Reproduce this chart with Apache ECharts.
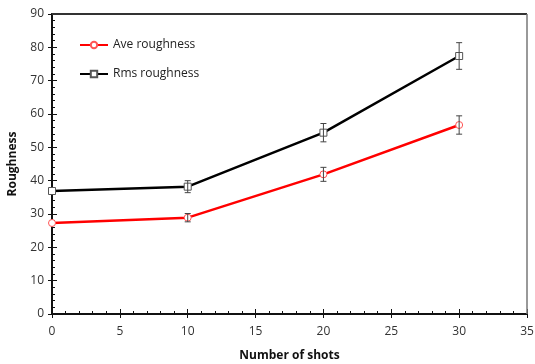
<!DOCTYPE html>
<html><head><meta charset="utf-8">
<script src="https://cdn.jsdelivr.net/npm/echarts@6/dist/echarts.min.js"></script>
<style>html,body{margin:0;padding:0;background:#fff}#c{width:535px;height:364px}</style>
</head><body><div id="c"></div>
<script>
const shots = [0, 10, 20, 30];
const aveRoughness = [27.3, 28.9, 41.9, 56.7];
const aveError = [0, 1.25, 2.1, 2.75];
const rmsRoughness = [36.9, 38.2, 54.4, 77.4];
const rmsError = [0, 1.8, 2.75, 4.0];
const xTicks = [0, 5, 10, 15, 20, 25, 30, 35];
const yTicks = [0, 10, 20, 30, 40, 50, 60, 70, 80, 90];

const font = "'Open Sans', 'Noto Sans', sans-serif";
function pairs(xs, ys){ return xs.map((x,i)=>[x, ys[i]]); }
function errData(xs, ys, es){ return xs.map((x,i)=>[x, ys[i]-es[i], ys[i]+es[i]]); }
function errRender(params, api){
  const x = api.value(0);
  const lo = api.coord([x, api.value(1)]);
  const hi = api.coord([x, api.value(2)]);
  const w = 3;
  const st = {stroke:'#444', lineWidth:1};
  if (Math.abs(lo[1]-hi[1]) < 0.5) return {type:'group', children:[]};
  return {type:'group', children:[
    {type:'line', shape:{x1:lo[0], y1:lo[1], x2:hi[0], y2:hi[1]}, style:st},
    {type:'line', shape:{x1:lo[0]-w, y1:lo[1], x2:lo[0]+w, y2:lo[1]}, style:st},
    {type:'line', shape:{x1:hi[0]-w, y1:hi[1], x2:hi[0]+w, y2:hi[1]}, style:st}
  ]};
}
const xMin = xTicks[0], xMax = xTicks[xTicks.length-1];
const yMin = yTicks[0], yMax = yTicks[yTicks.length-1];
const tickStyle = {color:'#111', width:1};
const chart = echarts.init(document.getElementById('c'));
chart.setOption({
  animation:false,
  grid:{left:52, top:14, right:8, bottom:50, outerBoundsMode:'none'},
  legend:{
    left:74, top:34, orient:'vertical', itemGap:17, itemWidth:28, itemHeight:8,
    data:['Ave roughness','Rms roughness'],
    textStyle:{fontFamily:font, fontSize:12, color:'#222'}
  },
  xAxis:[{
    type:'value', min:xMin, max:xMax, interval:5,
    name:'Number of shots', nameLocation:'middle', nameGap:36,
    nameTextStyle:{fontFamily:font, fontSize:12, fontWeight:'bold', color:'#111'},
    axisLine:{lineStyle:{color:'#111', width:2}},
    axisTick:{show:true, inside:true, length:5, lineStyle:tickStyle},
    minorTick:{show:true, splitNumber:5, length:3, lineStyle:tickStyle},
    axisLabel:{fontFamily:font, fontSize:12, color:'#333', margin:12},
    splitLine:{show:false}
  },{
    type:'value', min:xMin, max:xMax, interval:5, position:'bottom',
    axisLine:{show:true, lineStyle:{color:'#111', width:2}},
    axisTick:{show:true, inside:false, length:4, lineStyle:tickStyle},
    axisLabel:{show:false}, splitLine:{show:false}
  }],
  yAxis:[{
    type:'value', min:yMin, max:yMax, interval:10,
    name:'Roughness', nameLocation:'middle', nameGap:33,
    nameTextStyle:{fontFamily:font, fontSize:12, fontWeight:'bold', color:'#111'},
    axisLine:{lineStyle:{color:'#111', width:2}},
    axisTick:{show:true, inside:true, length:5, lineStyle:tickStyle},
    minorTick:{show:true, splitNumber:5, length:3, lineStyle:tickStyle},
    axisLabel:{fontFamily:font, fontSize:12, color:'#333', margin:8},
    splitLine:{show:false}
  },{
    type:'value', min:yMin, max:yMax, interval:10, position:'left',
    axisLine:{show:true, lineStyle:{color:'#111', width:2}},
    axisTick:{show:true, inside:false, length:4, lineStyle:tickStyle},
    axisLabel:{show:false}, splitLine:{show:false}
  }],
  series:[
    {name:'Ave roughness', type:'line', data:pairs(shots, aveRoughness),
     lineStyle:{color:'#ff0000', width:2.5}, itemStyle:{color:'#fff', borderColor:'#ff5555', borderWidth:1},
     symbol:'circle', symbolSize:7, showAllSymbol:true, z:3, color:'#ff0000'},
    {name:'Rms roughness', type:'line', data:pairs(shots, rmsRoughness),
     lineStyle:{color:'#000', width:2.5}, itemStyle:{color:'#fff', borderColor:'#555', borderWidth:1},
     symbol:'rect', symbolSize:7, showAllSymbol:true, z:3, color:'#000'},
    {type:'custom', renderItem:errRender, data:errData(shots, aveRoughness, aveError), z:4,
     encode:{x:0, y:[1,2]}, silent:true},
    {type:'custom', renderItem:errRender, data:errData(shots, rmsRoughness, rmsError), z:4,
     encode:{x:0, y:[1,2]}, silent:true},
    {type:'line', xAxisIndex:1, yAxisIndex:1, data:[], silent:true, symbol:'none'}
  ]
});
// plot frame (top and right edges), positioned through the chart's own scales
const tl = chart.convertToPixel({xAxisIndex:0, yAxisIndex:0}, [xMin, yMax]);
const tr = chart.convertToPixel({xAxisIndex:0, yAxisIndex:0}, [xMax, yMax]);
const br = chart.convertToPixel({xAxisIndex:0, yAxisIndex:0}, [xMax, yMin]);
chart.setOption({graphic:[
  {type:'line', shape:{x1:tl[0], y1:tl[1], x2:tr[0], y2:tr[1]}, style:{stroke:'#333', lineWidth:2}, silent:true, z:1},
  {type:'line', shape:{x1:tr[0], y1:tr[1], x2:br[0], y2:br[1]}, style:{stroke:'#777', lineWidth:1.5}, silent:true, z:1}
]});
</script></body></html>
